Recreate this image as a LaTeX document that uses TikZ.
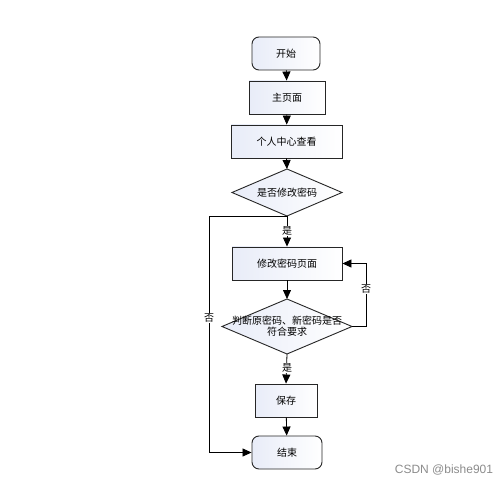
\documentclass[tikz,border=0pt]{standalone}
\usepackage{fontspec}
\newfontfamily\cjk{Noto Sans CJK SC}
\usetikzlibrary{shapes.geometric,arrows.meta}
\definecolor{boxtop}{RGB}{232,236,248}
\tikzset{
  base/.style={draw=black!85, line width=0.9pt, left color=boxtop, right color=white, font=\cjk\fontsize{10}{12}\selectfont, inner sep=0pt},
  term/.style={base, rounded corners=7pt},
  proc/.style={base},
  arr/.style={line width=0.8pt, -{Triangle[length=9pt,width=8pt]}},
  lab/.style={font=\cjk\fontsize{10}{12}\selectfont, fill=white, inner sep=1pt},
  txt/.style={font=\cjk\fontsize{10}{12}\selectfont}
}
\begin{document}
\begin{tikzpicture}[x=1pt,y=-1pt]
\useasboundingbox[fill=white] (0,0) rectangle (503,486);
\node[term, minimum width=68pt, minimum height=33pt] (start) at (286,53.5) {开始};
\node[proc, minimum width=76pt, minimum height=33pt] (home) at (287,97.5) {主页面};
\node[proc, minimum width=111pt, minimum height=33pt] (center) at (286.5,141.5) {个人中心查看};
\path[base] (232,192.5) -- (287,169) -- (342,192.5) -- (287,216) -- cycle;
\node[txt] (d1) at (287,192.5) {是否修改密码};
\coordinate (d1t) at (287,169);
\coordinate (d1b) at (287,216);
\node[proc, minimum width=110pt, minimum height=33pt] (edit) at (287,263.5) {修改密码页面};
\path[base] (222,326.5) -- (287,299) -- (352,326.5) -- (287,354) -- cycle;
\node[txt, align=center, text width=130pt] (d2) at (287,326.5) {判断原密码、新密码是否\\[-1pt]符合要求};
\coordinate (d2t) at (287,299);
\coordinate (d2b) at (287,354);
\coordinate (d2r) at (352,326.5);
\node[proc, minimum width=62pt, minimum height=33pt] (save) at (286,400.5) {保存};
\node[term, minimum width=70pt, minimum height=33pt] (end) at (287,452.5) {结束};
\coordinate (l1) at (209,216);
\coordinate (l2) at (209,452.5);
\coordinate (r1) at (366,326.5);
\coordinate (r2) at (366,263.5);
\draw[arr] (start) -- (home);
\draw[arr] (home) -- (center);
\draw[arr] (center.south) -- (d1t);
\draw[arr] (d1b) -- (edit.north);
\draw[arr] (edit.south) -- (d2t);
\draw[arr] (d2b) -- (save.north);
\draw[arr] (save) -- (end);
\draw[arr] (d1b) -- (l1) -- (l2) -- (end.west);
\draw[arr] (d2r) -- (r1) -- (r2) -- (edit.east);
\node[lab] (y1) at (287,231) {是};
\node[lab] (y2) at (287,368) {是};
\node[lab] (n1) at (209,318) {否};
\node[lab] (n2) at (366,289) {否};
\node[font=\fontspec{Liberation Sans}\fontsize{12}{13}\selectfont, text=black!45] (wm) at (444,470) {CSDN @bishe901};
\end{tikzpicture}
\end{document}
